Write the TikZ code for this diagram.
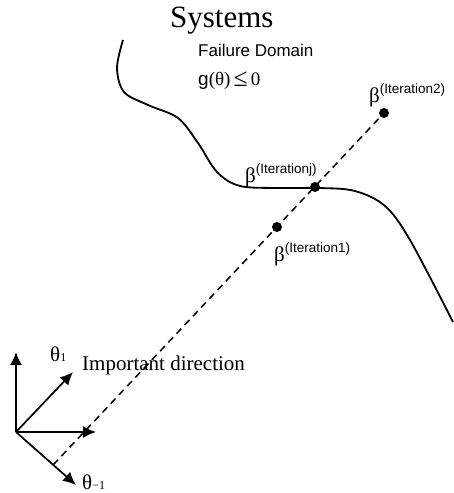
\documentclass[tikz,border=0pt]{standalone}
\usepackage{fontspec}
\setmainfont{Liberation Serif}
\setsansfont{Liberation Sans}
\usetikzlibrary{arrows.meta,calc}

% beta with a sans-serif iteration superscript
\newcommand{\betaiter}[1]{{\fontsize{21}{24}\selectfont β}\raisebox{9pt}{\sffamily\fontsize{13.5}{15}\selectfont #1}}

\tikzset{
  axis/.style={line width=1.7pt,-{Latex[length=13pt,width=12pt]}},
  limit/.style={line width=1.8pt},
  search/.style={line width=1.5pt,dash pattern=on 7pt off 5pt},
  pt/.style={circle,fill=black,inner sep=0pt,minimum size=10pt},
  lbl/.style={anchor=base west,inner sep=0pt}
}

\begin{document}
\begin{tikzpicture}[x=1pt,y=-1pt]
\useasboundingbox (0,0) rectangle (453,493);

% limit state surface
\draw[limit] plot[smooth,tension=0.55] coordinates {
  (123,40) (117,68) (124,92) (148,105) (178,118) (198,143) (217,172)
  (240,186) (280,188) (320,188) (355,191) (385,206) (410,240) (453,322)};

% coordinate axes
\coordinate (o) at (16,432);
\coordinate (tup) at (16,352);
\coordinate (tdiag) at (73,372);
\coordinate (tright) at (96,432);
\coordinate (tdown) at (76,485);
\draw[axis] (o) -- (tup);
\draw[axis] (o) -- (tdiag);
\draw[axis] (o) -- (tright);
\draw[axis] (o) -- (tdown);

% search points along the important direction
\coordinate (d0) at ($(o)!0.62!(tdown)$);
\node[pt] (b2) at (384,113) {};
\node[pt] (bj) at (315,187) {};
\node[pt] (b1) at (277,227) {};
\draw[search] (d0) -- (b2);

% labels
\node[lbl] (sys) at (170,27) {\fontsize{31}{36}\selectfont Systems};
\node[lbl] (fd) at (198,56) {\sffamily\fontsize{17}{20}\selectfont Failure Domain};
\node[lbl] (g) at (198,85) {\fontsize{19}{22}\selectfont{\sffamily g}(θ)\,\raisebox{-1pt}{\scalebox{1.35}{≤}}\,0};
\node[lbl] (l2) at (369,102) {\betaiter{(Iteration2)}};
\node[lbl] (lj) at (245,182) {\betaiter{(Iterationj)}};
\node[lbl] (l1) at (274,261) {\betaiter{(Iteration1)}};
\node[lbl] (th1) at (50,361) {\fontsize{21}{24}\selectfont θ{\fontsize{12}{13}\selectfont 1}};
\node[lbl] (thm) at (82,489) {\fontsize{21}{24}\selectfont θ{\fontsize{12}{13}\selectfont −1}};
\node[lbl] (imp) at (82,370) {\fontsize{21}{24}\selectfont Important direction};
\end{tikzpicture}
\end{document}
